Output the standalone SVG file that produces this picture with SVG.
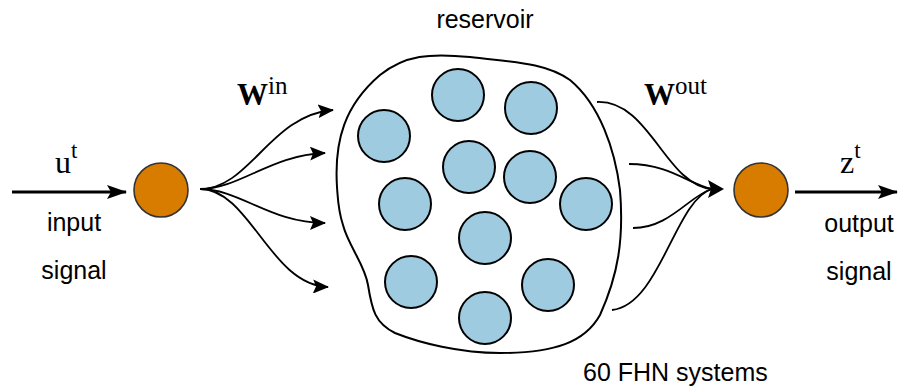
<svg xmlns="http://www.w3.org/2000/svg" width="898" height="388" viewBox="0 0 898 388">
<style>
.lbl{font-family:"Liberation Sans",Arial,sans-serif;font-size:25px;fill:#000}
.math{font-family:"Liberation Serif","Times New Roman",serif;fill:#000}
.res{fill:#9fcbe0;stroke:#000;stroke-width:2}
.io{fill:#d87c00;stroke:#333;stroke-width:1.6}
.fan{fill:none;stroke:#000;stroke-width:1.8}
.main{fill:none;stroke:#000;stroke-width:3}
</style>
<defs>
<marker id="ah" markerWidth="16" markerHeight="14" refX="15" refY="7" orient="auto" markerUnits="userSpaceOnUse">
<path d="M0,0 L16,7 L0,14 L3,7 Z" fill="#000"/>
</marker>
<marker id="ahb" markerWidth="20" markerHeight="14" refX="19" refY="7" orient="auto" markerUnits="userSpaceOnUse">
<path d="M0,0 L20,7 L0,14 L4,7 Z" fill="#000"/>
</marker>
</defs>
<g id="reservoir">
<path d="M337,187 C334,140 345,105 380,75 C405,55 430,53 470,57 C510,62 545,62 570,80 C600,105 615,150 620,190 C624,240 618,275 600,315 C585,342 555,353 500,353 C460,353 420,343 395,333 C375,323 372,310 368,285 C365,265 348,245 343,225 C338,210 338,200 337,187 Z" fill="none" stroke="#000" stroke-width="2"/>
<text class="lbl" x="485" y="28" text-anchor="middle">reservoir</text>
<text class="lbl" x="583" y="381">60 FHN systems</text>
</g>
<g id="neurons">
<circle class="res" cx="458" cy="95" r="26"/>
<circle class="res" cx="531" cy="108" r="26"/>
<circle class="res" cx="384" cy="136" r="26"/>
<circle class="res" cx="469" cy="167" r="26"/>
<circle class="res" cx="530" cy="177" r="26"/>
<circle class="res" cx="405" cy="204" r="26"/>
<circle class="res" cx="586" cy="204" r="26"/>
<circle class="res" cx="485" cy="238" r="26"/>
<circle class="res" cx="411" cy="282" r="26"/>
<circle class="res" cx="548" cy="285" r="26"/>
<circle class="res" cx="485" cy="318" r="26"/>
</g>
<g id="input-node">
<circle class="io" cx="161" cy="190" r="27"/>
<text class="math" x="55" y="173" font-size="32">u<tspan font-size="23" dy="-15">t</tspan></text>
<text class="lbl" x="74" y="231" text-anchor="middle">input</text>
<text class="lbl" x="74" y="279" text-anchor="middle">signal</text>
</g>
<g id="output-node">
<circle class="io" cx="761" cy="190" r="27"/>
<text class="math" x="840" y="173" font-size="32">z<tspan font-size="23" dy="-15">t</tspan></text>
<text class="lbl" x="859" y="232" text-anchor="middle">output</text>
<text class="lbl" x="859" y="280" text-anchor="middle">signal</text>
</g>
<g id="weights">
<text class="math" x="237" y="105" font-size="31" font-weight="bold">W<tspan font-size="25" font-weight="normal" dy="-11">in</tspan></text>
<text class="math" x="644" y="105" font-size="31" font-weight="bold">W<tspan font-size="25" font-weight="normal" dy="-11">out</tspan></text>
</g>
<g id="connectors">
<path class="main" d="M12,192 L126,192" marker-end="url(#ahb)"/>
<path class="main" d="M795,192 L897,192" marker-end="url(#ahb)"/>
<path class="fan" d="M200,189 C250,189 270,115 333,110" marker-end="url(#ah)"/>
<path class="fan" d="M200,189 C240,189 270,155 325,153" marker-end="url(#ah)"/>
<path class="fan" d="M200,189 C240,189 270,223 325,223" marker-end="url(#ah)"/>
<path class="fan" d="M200,189 C250,189 270,285 328,287" marker-end="url(#ah)"/>
<path class="fan" d="M597,102 C650,100 665,185 712,189"/>
<path class="fan" d="M629,164 C670,164 690,185 712,189"/>
<path class="fan" d="M633,228 C670,228 690,195 712,189"/>
<path class="fan" d="M612,310 C660,305 675,200 712,189"/>
<path d="M724,189 L708,180 L711,189 L708,198 Z" fill="#000"/>
</g>
</svg>
